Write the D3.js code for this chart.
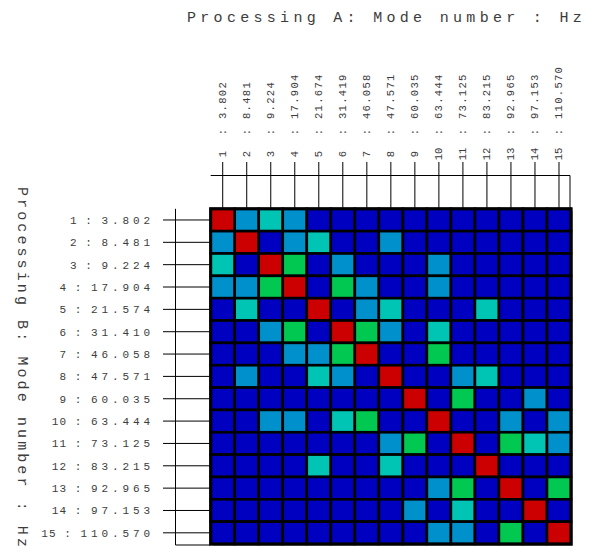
<!DOCTYPE html>
<html>
<head>
<meta charset="utf-8">
<script src="https://cdn.jsdelivr.net/npm/d3@7"></script>
<style>
  body { margin: 0; background: #fff; }
  text { font-family: "Liberation Mono", "DejaVu Sans Mono", monospace; fill: #3c3c3c; }
</style>
</head>
<body>
<svg id="chart"></svg>
<script>
// MAC matrix: Processing A (columns) vs Processing B (rows)

const modes = d3.range(1, 16);
const freqA = ["3.802", "8.481", "9.224", "17.904", "21.674", "31.419", "46.058", "47.571",
               "60.035", "63.444", "73.125", "83.215", "92.965", "97.153", "110.570"];
const freqB = ["3.802", "8.481", "9.224", "17.904", "21.574", "31.410", "46.058", "47.571",
               "60.035", "63.444", "73.125", "83.215", "92.965", "97.153", "110.570"];

// correlation values, row = mode of B, column = mode of A
const mac = [
  [1.00, 0.30, 0.50, 0.30, 0.05, 0.05, 0.05, 0.05, 0.05, 0.05, 0.05, 0.05, 0.05, 0.05, 0.05],
  [0.30, 1.00, 0.05, 0.30, 0.50, 0.05, 0.05, 0.30, 0.05, 0.05, 0.05, 0.05, 0.05, 0.05, 0.05],
  [0.50, 0.05, 1.00, 0.70, 0.05, 0.30, 0.05, 0.05, 0.05, 0.30, 0.05, 0.05, 0.05, 0.05, 0.05],
  [0.30, 0.30, 0.70, 1.00, 0.05, 0.70, 0.30, 0.05, 0.05, 0.30, 0.05, 0.05, 0.05, 0.05, 0.05],
  [0.05, 0.50, 0.05, 0.05, 1.00, 0.05, 0.30, 0.50, 0.05, 0.05, 0.05, 0.50, 0.05, 0.05, 0.05],
  [0.05, 0.05, 0.30, 0.70, 0.05, 1.00, 0.70, 0.30, 0.05, 0.50, 0.05, 0.05, 0.05, 0.05, 0.05],
  [0.05, 0.05, 0.05, 0.30, 0.30, 0.70, 1.00, 0.05, 0.05, 0.70, 0.05, 0.05, 0.05, 0.05, 0.05],
  [0.05, 0.30, 0.05, 0.05, 0.50, 0.30, 0.05, 1.00, 0.05, 0.05, 0.30, 0.50, 0.05, 0.05, 0.05],
  [0.05, 0.05, 0.05, 0.05, 0.05, 0.05, 0.05, 0.05, 1.00, 0.05, 0.70, 0.05, 0.05, 0.30, 0.05],
  [0.05, 0.05, 0.30, 0.30, 0.05, 0.50, 0.70, 0.05, 0.05, 1.00, 0.05, 0.05, 0.30, 0.05, 0.30],
  [0.05, 0.05, 0.05, 0.05, 0.05, 0.05, 0.05, 0.30, 0.70, 0.05, 1.00, 0.05, 0.70, 0.50, 0.30],
  [0.05, 0.05, 0.05, 0.05, 0.50, 0.05, 0.05, 0.50, 0.05, 0.05, 0.05, 1.00, 0.05, 0.05, 0.05],
  [0.05, 0.05, 0.05, 0.05, 0.05, 0.05, 0.05, 0.05, 0.05, 0.30, 0.70, 0.05, 1.00, 0.05, 0.70],
  [0.05, 0.05, 0.05, 0.05, 0.05, 0.05, 0.05, 0.05, 0.30, 0.05, 0.50, 0.05, 0.05, 1.00, 0.05],
  [0.05, 0.05, 0.05, 0.05, 0.05, 0.05, 0.05, 0.05, 0.05, 0.30, 0.30, 0.05, 0.70, 0.05, 1.00]
];

const levels = [0.2, 0.4, 0.6, 0.8];
const palette = ["#0000c0", "#0090cc", "#00c4b4", "#00c850", "#cc0000"];

(function () {
  const W = 593, H = 559;
  const GX0 = 210.7, GX1 = 571, GY0 = 208.8, GY1 = 544;

  const svg = d3.select("#chart").attr("width", W).attr("height", H);

  const x = d3.scaleBand().domain(modes).range([GX0, GX1]);
  const y = d3.scaleBand().domain(modes).range([GY0, GY1]);
  const color = d3.scaleThreshold().domain(levels).range(palette);

  const cells = mac.flatMap((row, i) => row.map((v, j) => ({ r: modes[i], c: modes[j], v })));

  // Titles
  svg.append("text")
    .attr("x", 187).attr("y", 22)
    .attr("font-size", 15).attr("letter-spacing", 4.3)
    .text("Processing A: Mode number : Hz");

  svg.append("text")
    .attr("transform", "translate(18,187) rotate(90)")
    .attr("font-size", 15).attr("letter-spacing", 3.1)
    .text("Processing B: Mode number : Hz");

  // Header box (columns)
  svg.append("line")
    .attr("x1", GX0).attr("x2", 570).attr("y1", 175.5).attr("y2", 175.5)
    .attr("stroke", "#000");
  svg.append("line")
    .attr("x1", 570).attr("x2", 570).attr("y1", 175.5).attr("y2", GY0)
    .attr("stroke", "#000");
  svg.append("g").selectAll("line").data(modes).join("line")
    .attr("x1", d => x(d) + x.bandwidth() / 2).attr("x2", d => x(d) + x.bandwidth() / 2)
    .attr("y1", 162).attr("y2", GY0)
    .attr("stroke", "#000");

  // Side box (rows)
  svg.append("line")
    .attr("x1", 175.5).attr("x2", 175.5).attr("y1", GY0).attr("y2", 545)
    .attr("stroke", "#000");
  svg.append("line")
    .attr("x1", 175.5).attr("x2", GX0).attr("y1", 545).attr("y2", 545)
    .attr("stroke", "#000");
  svg.append("g").selectAll("line").data(modes).join("line")
    .attr("x1", 163).attr("x2", GX0)
    .attr("y1", d => y(d) + y.bandwidth() / 2).attr("y2", d => y(d) + y.bandwidth() / 2)
    .attr("stroke", "#000");

  // Column labels (rotated)
  const colG = svg.append("g").attr("font-size", 10.5);
  modes.forEach((m, i) => {
    const cx = x(m) + x.bandwidth() / 2 + 3.5;
    colG.append("text")
      .attr("transform", `translate(${cx},154) rotate(-90)`)
      .attr("text-anchor", "middle").text(m);
    colG.append("text")
      .attr("transform", `translate(${cx},132) rotate(-90)`)
      .attr("text-anchor", "middle").text(":");
    colG.append("text")
      .attr("transform", `translate(${cx},119) rotate(-90)`)
      .attr("letter-spacing", 1.3).text(freqA[i]);
  });

  // Row labels
  const rowG = svg.append("g").attr("font-size", 11);
  modes.forEach((m, i) => {
    const cy = y(m) + y.bandwidth() / 2 + 4;
    const fStart = 150 - freqB[i].length * 10.5;
    rowG.append("text")
      .attr("x", 150 + 3.9).attr("y", cy)
      .attr("text-anchor", "end").attr("letter-spacing", 3.9)
      .text(freqB[i]);
    rowG.append("text")
      .attr("x", fStart - 9).attr("y", cy)
      .attr("text-anchor", "middle").text(":");
    rowG.append("text")
      .attr("x", fStart - 20).attr("y", cy)
      .attr("text-anchor", "end").attr("letter-spacing", 1)
      .text(m);
  });

  // Matrix
  svg.append("rect")
    .attr("x", GX0 + 2).attr("y", GY0 + 2)
    .attr("width", GX1 - GX0).attr("height", GY1 - GY0)
    .attr("fill", "#aaa");

  svg.append("g").selectAll("rect").data(cells).join("rect")
    .attr("x", d => x(d.c)).attr("y", d => y(d.r))
    .attr("width", x.bandwidth()).attr("height", y.bandwidth())
    .attr("fill", d => color(d.v))
    .attr("stroke", "#000").attr("stroke-width", 2.6);

  svg.append("rect")
    .attr("x", GX0).attr("y", GY0)
    .attr("width", GX1 - GX0).attr("height", GY1 - GY0)
    .attr("fill", "none").attr("stroke", "#000").attr("stroke-width", 3);
})();
</script>
</body>
</html>
